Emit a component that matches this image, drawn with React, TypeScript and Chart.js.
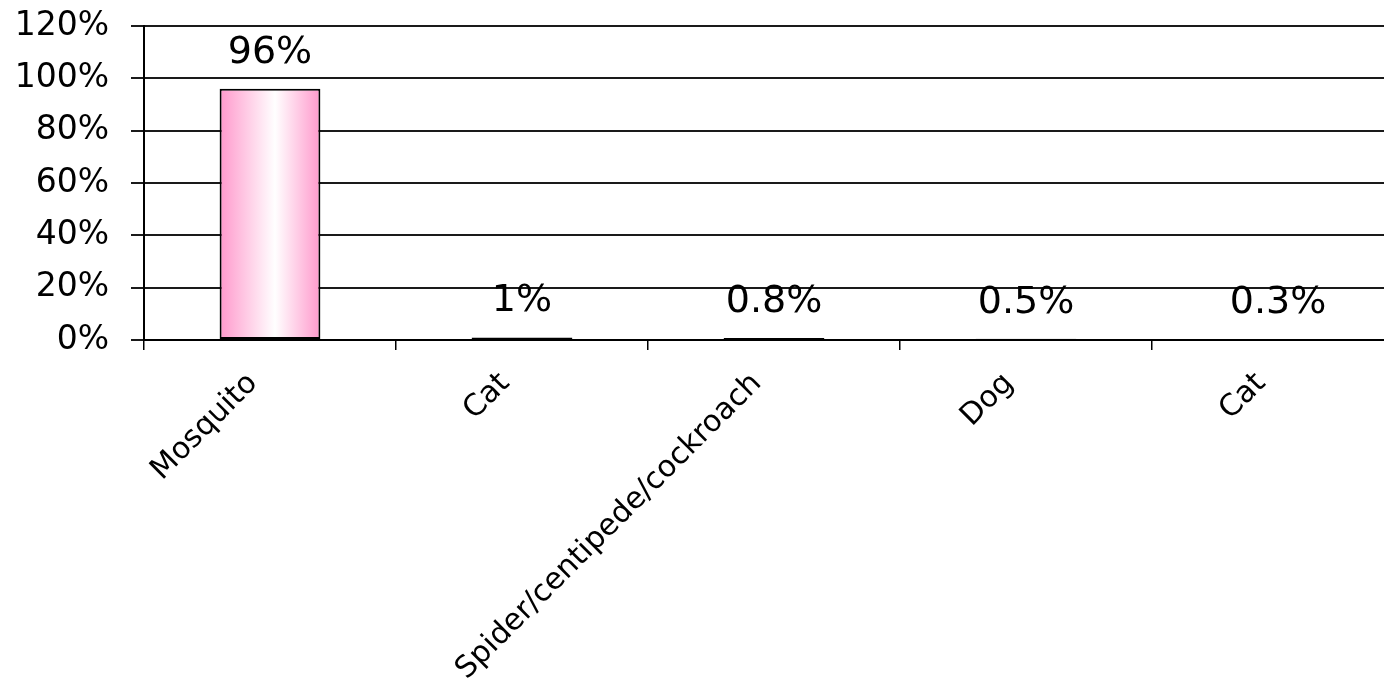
import React, { useEffect, useRef } from "react";
import { Chart, registerables } from "chart.js";

Chart.register(...registerables);

const categories = ["Mosquito", "Cat", "Spider/centipede/cockroach", "Dog", "Cat"];
const values = [96, 1, 0.8, 0.5, 0.3];
const valueLabels = ["96%", "1%", "0.8%", "0.5%", "0.3%"];
const yMax = 120;
const yStep = 20;

const FONT = "'DejaVu Sans', sans-serif";

const dataLabelPlugin = {
  id: "dataLabels",
  afterDatasetsDraw(chart: any) {
    const { ctx } = chart;
    const meta = chart.getDatasetMeta(0);
    ctx.save();
    ctx.fillStyle = "#000";
    ctx.font = `38px ${FONT}`;
    ctx.textAlign = "center";
    ctx.textBaseline = "alphabetic";
    meta.data.forEach((bar: any, i: number) => {
      ctx.fillText(valueLabels[i], bar.x, bar.y - 26);
    });
    ctx.restore();
  },
};

export default function App() {
  const ref = useRef<HTMLCanvasElement>(null);
  useEffect(() => {
    if (!ref.current) return;
    const chart = new Chart(ref.current, {
      type: "bar",
      data: {
        labels: categories,
        datasets: [
          {
            data: values,
            backgroundColor: (c: any) => {
              const ch = c.chart;
              const xs = ch.scales?.x;
              if (!xs || c.dataIndex === undefined) return "#ff99cc";
              const cx = xs.getPixelForValue(c.dataIndex);
              const w = (xs.width / categories.length) * 0.4;
              if (!isFinite(cx) || !isFinite(w) || w <= 0) return "#ff99cc";
              const g = ch.ctx.createLinearGradient(cx - w / 2, 0, cx + w / 2, 0);
              g.addColorStop(0, "#ff99cc");
              g.addColorStop(0.55, "#ffffff");
              g.addColorStop(1, "#ff99cc");
              return g;
            },
            borderColor: "#000",
            borderWidth: 2,
            borderSkipped: false,
            categoryPercentage: 1,
            barPercentage: 0.4,
          },
        ],
      },
      options: {
        responsive: false,
        animation: false,
        layout: { padding: { top: 26, right: 6, left: 0, bottom: 0 } },
        plugins: { legend: { display: false }, tooltip: { enabled: false } },
        scales: {
          x: {
            afterFit: (s: any) => {
              s.height = 342;
              s.paddingLeft = 0;
              s.paddingRight = 0;
            },
            grid: {
              offset: true,
              drawOnChartArea: false,
              drawTicks: true,
              tickLength: 10,
              color: "#000",
              lineWidth: 1.5,
            },
            border: { color: "#000", width: 2 },
            ticks: {
              autoSkip: false,
              minRotation: 45,
              maxRotation: 45,
              padding: 16,
              labelOffset: -17,
              color: "#000",
              font: { family: FONT, size: 30 },
            },
          },
          y: {
            min: 0,
            max: yMax,
            afterFit: (s: any) => {
              s.width = 144;
              s.paddingTop = 0;
              s.paddingBottom = 0;
            },
            grid: {
              color: "#1a1a1a",
              lineWidth: 2,
              tickLength: 13,
            },
            border: { color: "#000", width: 2 },
            ticks: {
              stepSize: yStep,
              padding: 22,
              color: "#000",
              font: { family: FONT, size: 33 },
              callback: (v: any) => `${v}%`,
            },
          },
        },
      },
      plugins: [dataLabelPlugin],
    });
    return () => chart.destroy();
  }, []);
  return (
    <div
      style={{
        position: "fixed",
        left: 0,
        top: 0,
        width: 1384,
        height: 682,
        overflow: "hidden",
        background: "#fff",
      }}
    >
      <canvas ref={ref} width={1410} height={682} style={{ display: "block" }} />
    </div>
  );
}
